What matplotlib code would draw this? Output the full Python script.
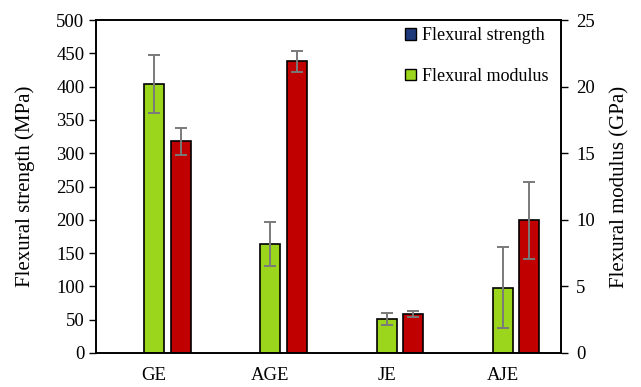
import numpy as np
import matplotlib
matplotlib.use("Agg")
import matplotlib.pyplot as plt
from matplotlib.patches import Patch

plt.rcParams['font.family'] = ['Liberation Serif', 'DejaVu Serif']

samples = ["GE", "AGE", "JE", "AJE"]

# flexural strength (MPa), left axis - red bars
strength = [318, 438, 59, 199]
strength_err = [20, 16, 4.5, 58]

# flexural modulus (GPa), right axis - green bars
modulus = [20.2, 8.15, 2.55, 4.9]
modulus_err = [2.15, 1.65, 0.43, 3.05]

green = "#9BD61C"
red = "#C00000"
navy = "#1F3A7A"

fig = plt.figure(figsize=(6.41, 3.87), dpi=100)
ax = fig.add_axes([0.150, 0.088, 0.725, 0.860])
ax2 = ax.twinx()

x = np.arange(len(samples))
w = 0.172
ekw = dict(ecolor="#7a7a7a", elinewidth=1.4, capsize=4, capthick=1.4)

ax2.bar(x, modulus, w, yerr=modulus_err, color=green, edgecolor="black",
        linewidth=1.2, error_kw=ekw, zorder=2)
ax.bar(x + 0.228, strength, w, yerr=strength_err, color=red, edgecolor="black",
       linewidth=1.2, error_kw=ekw, zorder=2)

ax.set_xlim(-0.5, 3.5)
ax.set_ylim(0, 500)
ax.set_yticks(np.arange(0, 501, 50))
ax2.set_ylim(0, 25)
ax2.set_yticks(np.arange(0, 26, 5))

ax.set_xticks(x)
ax.set_xticklabels(samples)
ax.tick_params(axis="x", length=0, pad=10, labelsize=13.5)
ax.tick_params(axis="y", length=5, width=1, labelsize=13.5, direction="out")
ax2.tick_params(axis="y", length=5, width=1, labelsize=13.5, direction="out", pad=6)

ax.set_ylabel("Flexural strength (MPa)", fontsize=15, labelpad=15)
ax2.set_ylabel("Flexural modulus (GPa)", fontsize=15, labelpad=11)

for a in (ax, ax2):
    for s in a.spines.values():
        s.set_linewidth(1.2)
        s.set_color("black")

handles = [Patch(facecolor=navy, edgecolor="black", label="Flexural strength"),
           Patch(facecolor=green, edgecolor="black", label="Flexural modulus")]
ax2.legend(handles=handles, loc="upper right", frameon=False, fontsize=13,
           handlelength=0.6, handleheight=0.6, handletextpad=0.3,
           labelspacing=1.3, borderaxespad=0.0, bbox_to_anchor=(0.988, 1.0))

fig.savefig("out.png", dpi=100)
